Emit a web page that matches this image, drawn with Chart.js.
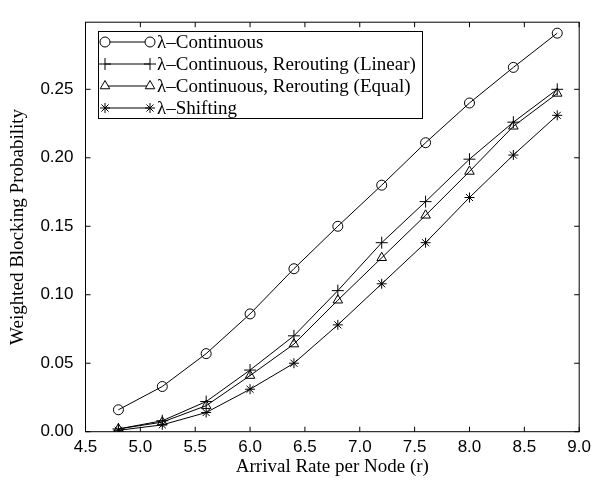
<!DOCTYPE html>
<html>
<head>
<meta charset="utf-8">
<script src="https://cdn.jsdelivr.net/npm/chart.js@4.4.1/dist/chart.umd.min.js"></script>
<style>
  html, body { margin: 0; padding: 0; background: #fff; }
  #wrap { width: 596px; height: 484px; }
</style>
</head>
<body>
<div id="wrap"><canvas id="chart"></canvas></div>
<script>
const arrivalRate = [4.8, 5.2, 5.6, 6.0, 6.4, 6.8, 7.2, 7.6, 8.0, 8.4, 8.8];
const continuous = [0.016, 0.033, 0.057, 0.086, 0.119, 0.150, 0.180, 0.211, 0.240, 0.266, 0.291];
const reroutingLinear = [0.002, 0.008, 0.022, 0.045, 0.070, 0.103, 0.138, 0.168, 0.199, 0.226, 0.250];
const reroutingEqual = [0.002, 0.007, 0.019, 0.041, 0.064, 0.096, 0.127, 0.158, 0.190, 0.223, 0.247];
const shifting = [0.001, 0.005, 0.014, 0.031, 0.050, 0.078, 0.108, 0.138, 0.171, 0.202, 0.231];

const seriesNames = ['λ–Continuous', 'λ–Continuous, Rerouting (Linear)', 'λ–Continuous, Rerouting (Equal)', 'λ–Shifting'];
const xTicks = [4.5, 5.0, 5.5, 6.0, 6.5, 7.0, 7.5, 8.0, 8.5, 9.0];
const yTicks = [0.00, 0.05, 0.10, 0.15, 0.20, 0.25];

const serif = '"Liberation Serif", "DejaVu Serif", serif';
const sans = '"Liberation Sans", Arial, sans-serif';

function points(values) {
    return arrivalRate.map((x, i) => ({ x: x, y: values[i] }));
}

function series(label, values, style, radius) {
    return {
        label: label,
        data: points(values),
        showLine: true,
        borderColor: '#000',
        borderWidth: 1,
        backgroundColor: '#fff',
        pointStyle: style,
        pointRadius: radius,
        pointBorderColor: '#000',
        pointBackgroundColor: 'rgba(255,255,255,0)',
        pointBorderWidth: 1
    };
}

// box round the plot, inward ticks on all four sides, and the legend
const framePlugin = {
    id: 'frame',
    afterDatasetsDraw(chart) {
        const ctx = chart.ctx;
        const a = chart.chartArea;
        const xs = chart.scales.x, ys = chart.scales.y;
        ctx.save();
        ctx.strokeStyle = '#000';
        ctx.lineWidth = 1;
        ctx.strokeRect(a.left, a.top, a.right - a.left, a.bottom - a.top);
        ctx.beginPath();
        xTicks.forEach(v => {
            const px = xs.getPixelForValue(v);
            ctx.moveTo(px, a.bottom); ctx.lineTo(px, a.bottom - 5);
            ctx.moveTo(px, a.top); ctx.lineTo(px, a.top + 5);
        });
        yTicks.forEach(v => {
            const py = ys.getPixelForValue(v);
            ctx.moveTo(a.left, py); ctx.lineTo(a.left + 5, py);
            ctx.moveTo(a.right, py); ctx.lineTo(a.right - 5, py);
        });
        ctx.stroke();

        // legend
        ctx.font = '19px ' + serif;
        const textX = 157;
        const widest = Math.max(...chart.data.datasets.map(ds => ctx.measureText(ds.label).width));
        const box = { left: 98.5, top: 31.5, right: Math.round(textX + widest + 6) + 0.5, bottom: 118.5 };
        ctx.fillStyle = '#fff';
        ctx.fillRect(box.left, box.top, box.right - box.left, box.bottom - box.top);
        ctx.strokeRect(box.left, box.top, box.right - box.left, box.bottom - box.top);
        const rows = [42, 64, 86, 108];
        ctx.textBaseline = 'middle';
        chart.data.datasets.forEach((ds, i) => {
            const y = rows[i];
            ctx.beginPath();
            ctx.moveTo(105, y); ctx.lineTo(150, y);
            ctx.stroke();
            const opts = { pointStyle: ds.pointStyle, radius: ds.pointRadius, borderWidth: 1, rotation: 0 };
            ctx.fillStyle = '#fff';
            ctx.strokeStyle = '#000';
            Chart.helpers.drawPoint(ctx, opts, 105, y);
            Chart.helpers.drawPoint(ctx, opts, 150, y);
            ctx.fillStyle = '#000';
            ctx.fillText(ds.label, textX, y + 1);
        });
        ctx.restore();
    }
};

new Chart(document.getElementById('chart'), {
    type: 'scatter',
    data: {
        datasets: [
            series(seriesNames[0], continuous, 'circle', 5),
            series(seriesNames[1], reroutingLinear, 'cross', 6),
            series(seriesNames[2], reroutingEqual, 'triangle', 5.5),
            series(seriesNames[3], shifting, 'star', 5)
        ]
    },
    options: {
        responsive: true,
        maintainAspectRatio: false,
        animation: false,
        layout: { padding: { top: 11, right: 15, left: 0, bottom: 0 } },
        plugins: {
            legend: { display: false },
            tooltip: { enabled: false }
        },
        scales: {
            x: {
                type: 'linear',
                min: 4.5,
                max: 9.0,
                afterBuildTicks: scale => { scale.ticks = xTicks.map(v => ({ value: v })); },
                afterFit: scale => { scale.height = 52.3; },
                grid: { display: false, drawTicks: false },
                border: { display: false },
                ticks: {
                    color: '#000',
                    padding: 5,
                    maxRotation: 0,
                    font: { family: sans, size: 17 },
                    callback: v => v.toFixed(1)
                },
                title: {
                    display: true,
                    text: 'Arrival Rate per Node (r)',
                    color: '#000',
                    padding: { top: 0, bottom: 6 },
                    font: { family: serif, size: 19 }
                }
            },
            y: {
                min: 0,
                max: 0.299,
                afterBuildTicks: scale => { scale.ticks = yTicks.map(v => ({ value: v })); },
                afterFit: scale => { scale.width = 85.5; },
                grid: { display: false, drawTicks: false },
                border: { display: false },
                ticks: {
                    color: '#000',
                    padding: 12,
                    font: { family: sans, size: 17 },
                    callback: v => v.toFixed(2)
                },
                title: {
                    display: true,
                    text: 'Weighted Blocking Probability',
                    color: '#000',
                    padding: { top: 7, bottom: 0 },
                    font: { family: serif, size: 19 }
                }
            }
        }
    },
    plugins: [framePlugin]
});
</script>
</body>
</html>
